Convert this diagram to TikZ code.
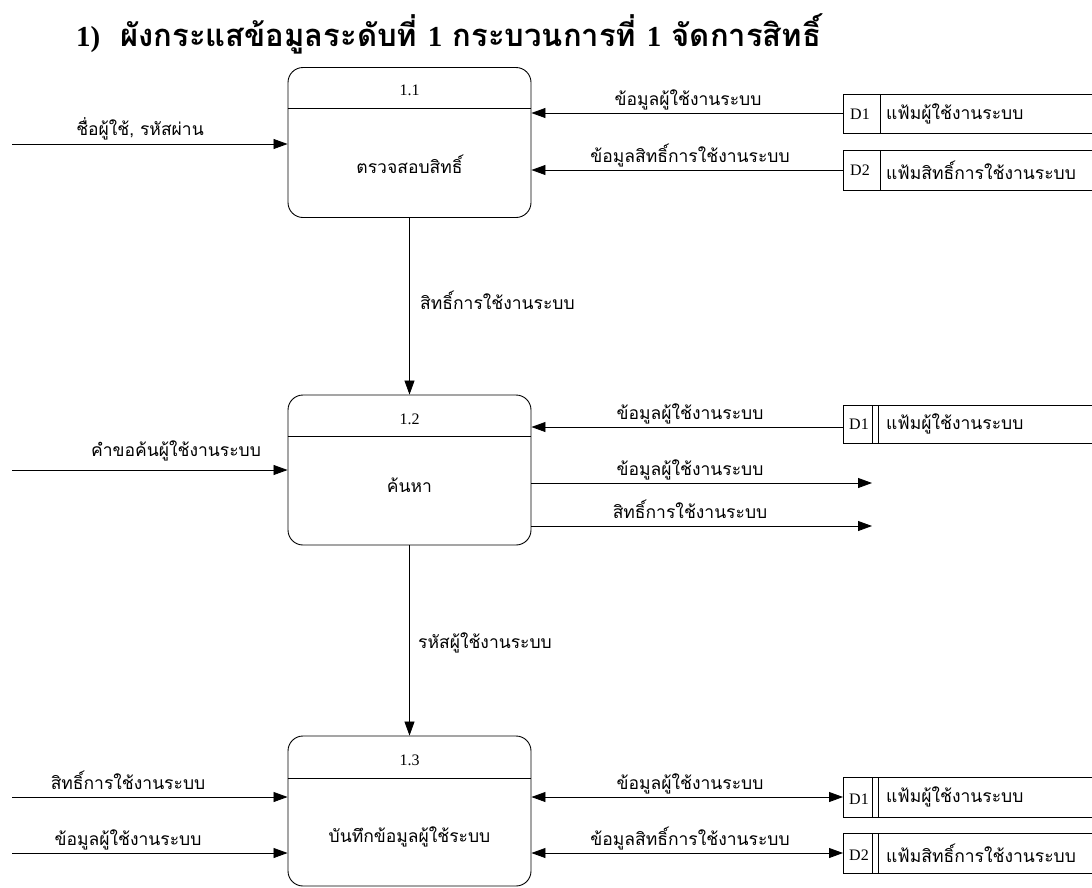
\documentclass[tikz,border=0pt]{standalone}
\usepackage{fontspec}
\setmainfont{Liberation Serif}
\newfontfamily\thai[Script=Thai]{Loma}
\usetikzlibrary{arrows.meta,calc}
\begin{document}
\begin{tikzpicture}[x=1pt,y=-1pt,
  proc/.style={draw, rounded corners=15pt, minimum width=243pt, minimum height=150pt, inner sep=0pt, line width=0.9pt},
  flow/.style={-{Triangle[length=14pt,width=10pt]}, line width=0.8pt},
  bflow/.style={{Triangle[length=14pt,width=10pt]}-{Triangle[length=14pt,width=10pt]}, line width=0.8pt},
  st/.style={line width=0.8pt},
  lbl/.style={font=\thai\fontsize{17.5}{20}\selectfont, inner sep=0pt},
  num/.style={font=\fontsize{16}{18}\selectfont, inner sep=0pt},
  ttl/.style={font=\bfseries\fontsize{29}{33}\selectfont, inner sep=0pt}]
\useasboundingbox (0,0) rectangle (1092,887);

% title
\node[ttl, anchor=base west] (title) at (76,46) {1)\hspace{20pt}{\thai\fontsize{31}{34}\selectfont ผังกระแสข้อมูลระดับที่ }1{\thai\fontsize{31}{34}\selectfont\ กระบวนการที่ }1{\thai\fontsize{31}{34}\selectfont\ จัดการสิทธิ์}};

% processes
\node[proc] (p1) at (409.5,142.5) {};
\node[proc] (p2) at (409.5,470) {};
\node[proc] (p3) at (409.5,811) {};
\draw[st] (p1.west |- 0,108) -- (p1.east |- 0,108);
\draw[st] (p2.west |- 0,436) -- (p2.east |- 0,436);
\draw[st] (p3.west |- 0,778) -- (p3.east |- 0,778);
\node[num] (p1n) at (409.5,90) {1.1};
\node[num] (p2n) at (409.5,419) {1.2};
\node[num] (p3n) at (409.5,760) {1.3};
\node[lbl] (p1t) at (409.5,164) {ตรวจสอบสิทธิ์};
\node[lbl] (p2t) at (409.5,485) {ค้นหา};
\node[lbl] (p3t) at (409.5,837) {บันทึกข้อมูลผู้ใช้ระบบ};

% data stores (top)
\draw[st] (1092,94) -- (843,94) -- (843,133) -- (1092,133);
\draw[st] (880,94) -- (880,133);
\node[num, anchor=west] (s1id) at (850,114) {D1};
\node[lbl, anchor=west] (s1t) at (886,114) {แฟ้มผู้ใช้งานระบบ};
\coordinate (s1) at (843,113);

\draw[st] (1092,150) -- (843,150) -- (843,190) -- (1092,190);
\draw[st] (880,150) -- (880,190);
\node[num, anchor=west] (s2id) at (850,170) {D2};
\node[lbl, anchor=west] (s2t) at (886,170) {แฟ้มสิทธิ์การใช้งานระบบ};
\coordinate (s2) at (843,170);

% data store (middle)
\draw[st] (1092,405) -- (843,405) -- (843,443) -- (1092,443);
\draw[st] (872,405) -- (872,443);
\draw[st] (878,405) -- (878,443);
\node[num, anchor=west] (s3id) at (849,424) {D1};
\node[lbl, anchor=west] (s3t) at (886,424) {แฟ้มผู้ใช้งานระบบ};
\coordinate (s3) at (843,427);

% data stores (bottom)
\draw[st] (1092,777) -- (843,777) -- (843,817) -- (1092,817);
\draw[st] (872,777) -- (872,817);
\draw[st] (878,777) -- (878,817);
\node[num, anchor=west] (s4id) at (849,799) {D1};
\node[lbl, anchor=west] (s4t) at (886,797) {แฟ้มผู้ใช้งานระบบ};
\coordinate (s4) at (843,797);

\draw[st] (1092,833) -- (843,833) -- (843,873) -- (1092,873);
\draw[st] (872,833) -- (872,873);
\draw[st] (878,833) -- (878,873);
\node[num, anchor=west] (s5id) at (849,855) {D2};
\node[lbl, anchor=west] (s5t) at (886,853) {แฟ้มสิทธิ์การใช้งานระบบ};
\coordinate (s5) at (843,853);

% free ends
\coordinate (i1) at (12,144);
\coordinate (i2) at (12,470);
\coordinate (i3) at (12,797);
\coordinate (i4) at (12,853);
\coordinate (o1) at (872,483);
\coordinate (o2) at (872,526);

% flows
\draw[flow] (i1) -- (i1 -| p1.west);
\node[lbl, anchor=base] (l1) at (140,135) {ชื่อผู้ใช้, รหัสผ่าน};
\draw[flow] (s1) -- (s1 -| p1.east);
\node[lbl, anchor=base] (l2) at (688,105) {ข้อมูลผู้ใช้งานระบบ};
\draw[flow] (s2) -- (s2 -| p1.east);
\node[lbl, anchor=base] (l3) at (690,162) {ข้อมูลสิทธิ์การใช้งานระบบ};

\draw[flow] (p1) -- (p2);
\node[lbl, anchor=west] (l4) at (420,300) {สิทธิ์การใช้งานระบบ};

\draw[flow] (i2) -- (i2 -| p2.west);
\node[lbl, anchor=base] (l5) at (176,456) {คำขอค้นผู้ใช้งานระบบ};
\draw[flow] (s3) -- (s3 -| p2.east);
\node[lbl, anchor=base] (l6) at (690,419) {ข้อมูลผู้ใช้งานระบบ};
\draw[flow] (o1 -| p2.east) -- (o1);
\node[lbl, anchor=base] (l7) at (690,475) {ข้อมูลผู้ใช้งานระบบ};
\draw[flow] (o2 -| p2.east) -- (o2);
\node[lbl, anchor=base] (l8) at (690,518) {สิทธิ์การใช้งานระบบ};

\draw[flow] (p2) -- (p3);
\node[lbl, anchor=west] (l9) at (418,643) {รหัสผู้ใช้งานระบบ};

\draw[flow] (i3) -- (i3 -| p3.west);
\node[lbl, anchor=base] (l10) at (128,789) {สิทธิ์การใช้งานระบบ};
\draw[flow] (i4) -- (i4 -| p3.west);
\node[lbl, anchor=base] (l11) at (128,845) {ข้อมูลผู้ใช้งานระบบ};
\draw[bflow] (s4) -- (s4 -| p3.east);
\node[lbl, anchor=base] (l12) at (690,789) {ข้อมูลผู้ใช้งานระบบ};
\draw[bflow] (s5) -- (s5 -| p3.east);
\node[lbl, anchor=base] (l13) at (690,845) {ข้อมูลสิทธิ์การใช้งานระบบ};
\end{tikzpicture}
\end{document}
